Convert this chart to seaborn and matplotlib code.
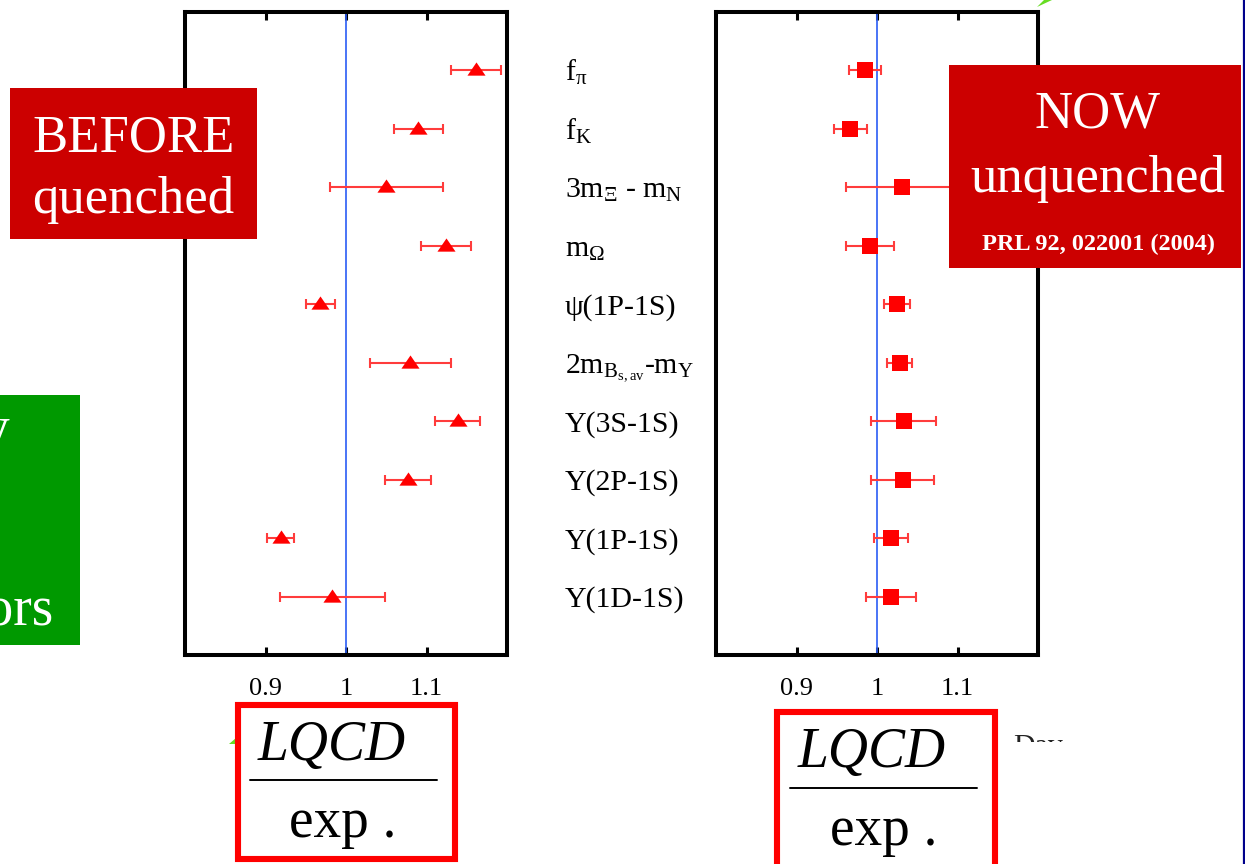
import numpy as np
import pandas as pd
import matplotlib
matplotlib.use("Agg")
import matplotlib.pyplot as plt
import seaborn as sns
from matplotlib.patches import Rectangle, Polygon
from matplotlib.lines import Line2D

# ---- data: lattice QCD / experiment ratios ----
observables = [
    r"f$_{\mathrm{π}}$",
    r"f$_{\mathrm{K}}$",
    r"3m$_{\mathrm{Ξ}}$ - m$_{\mathrm{N}}$",
    r"m$_{\mathrm{Ω}}$",
    "ψ(1P-1S)",
    r"2m$_{\mathrm{B}_{\mathrm{s,av}}}$-m$_{\mathrm{Υ}}$",
    "Υ(3S-1S)",
    "Υ(2P-1S)",
    "Υ(1P-1S)",
    "Υ(1D-1S)",
]
quenched_ratio = [1.161, 1.090, 1.050, 1.124, 0.968, 1.080, 1.139, 1.077, 0.919, 0.983]
quenched_err = [0.031, 0.030, 0.070, 0.031, 0.018, 0.050, 0.028, 0.029, 0.017, 0.065]
unquenched_ratio = [0.985, 0.967, 1.031, 0.991, 1.025, 1.028, 1.033, 1.032, 1.017, 1.017]
unquenched_err = [0.020, 0.021, 0.069, 0.030, 0.016, 0.016, 0.040, 0.039, 0.021, 0.031]
x_ticks = [0.9, 1.0, 1.1]
x_tick_labels = ["0.9", "1", "1.1"]

rows = np.arange(1, len(observables) + 1)
df_q = pd.DataFrame({"row": rows, "ratio": quenched_ratio, "err": quenched_err})
df_u = pd.DataFrame({"row": rows, "ratio": unquenched_ratio, "err": unquenched_err})

sns.set_theme(style="white")
plt.rcParams["font.family"] = ["Liberation Serif", "DejaVu Serif"]
plt.rcParams["mathtext.fontset"] = "custom"
plt.rcParams["mathtext.rm"] = "Liberation Serif"
plt.rcParams["mathtext.it"] = "Liberation Serif:italic"
plt.rcParams["mathtext.bf"] = "Liberation Serif:bold"

W, H = 1245, 864
fig = plt.figure(figsize=(W / 100, H / 100), dpi=100)
fig.patch.set_facecolor("white")


def fx(px):
    return px / W


def fy(py):
    return 1 - py / H


ax_b = fig.add_axes([fx(185), fy(655), fx(507) - fx(185), fy(12) - fy(655)])
ax_a = fig.add_axes([fx(716), fy(655), fx(1038) - fx(716), fy(12) - fy(655)])

triangle = [(-1, -0.57), (1, -0.57), (0, 0.89)]

for ax, df, marker, size in [(ax_b, df_q, triangle, 170), (ax_a, df_u, "s", 140)]:
    ax.axvline(1.0, color="#2a5cf5", lw=1.2, zorder=1)
    ax.errorbar(df["ratio"], df["row"], xerr=df["err"], fmt="none",
                ecolor="#ff3c3c", elinewidth=1.5, capsize=3.8, capthick=1.5, zorder=2)
    sns.scatterplot(data=df, x="ratio", y="row", marker=marker, s=size,
                    color="#ff0000", linewidth=0, ax=ax, zorder=3, legend=False)
    ax.set_xlim(0.8, 1.2)
    ax.set_ylim(11, 0)
    ax.set_xticks(x_ticks)
    ax.set_xticklabels(x_tick_labels)
    ax.set_yticks([])
    ax.set_xlabel("")
    ax.set_ylabel("")
    ax.tick_params(axis="x", direction="in", top=True, bottom=True, length=6,
                   width=2.2, pad=16.5, labelsize=19, colors="black")
    for sp in ax.spines.values():
        sp.set_visible(True)
        sp.set_color("black")
        sp.set_linewidth(2.9)
    ax.set_facecolor("white")

# observable names between the two panels
lab_x = (565 - 185) / (507 - 185)
for r, name in zip(rows, observables):
    ax_b.text(lab_x, r + 0.18, name, transform=ax_b.get_yaxis_transform(),
              ha="left", va="baseline", fontsize=21.5, color="black", clip_on=False)

# ---- annotation boxes ----
dark_red = "#cc0000"
fig.add_artist(Rectangle((fx(10), fy(239)), fx(257) - fx(10), fy(88) - fy(239),
                         transform=fig.transFigure, facecolor=dark_red, edgecolor="none", zorder=5))
fig.text(fx(134), fy(152), "BEFORE", ha="center", va="baseline", fontsize=38, color="white", zorder=6)
fig.text(fx(133), fy(213), "quenched", ha="center", va="baseline", fontsize=38, color="white", zorder=6)

fig.add_artist(Rectangle((fx(949), fy(268)), fx(1241) - fx(949), fy(65) - fy(268),
                         transform=fig.transFigure, facecolor=dark_red, edgecolor="none", zorder=5))
fig.text(fx(1098), fy(128), "NOW", ha="center", va="baseline", fontsize=38, color="white", zorder=6)
fig.text(fx(1098), fy(192), "unquenched", ha="center", va="baseline", fontsize=38, color="white", zorder=6)
fig.text(fx(1098), fy(250), "PRL 92, 022001 (2004)", ha="center", va="baseline", fontsize=17.5,
         fontweight="bold", color="white", zorder=6)

# green side box; its words run off the left edge of the slide
fig.add_artist(Rectangle((fx(0), fy(645)), fx(80), fy(395) - fy(645),
                         transform=fig.transFigure, facecolor="#009900", edgecolor="none", zorder=5))
fig.text(fx(9), fy(445), "y", ha="right", va="baseline", fontsize=40, color="white", zorder=6)
fig.text(fx(54), fy(625), "errors", ha="right", va="baseline", fontsize=40, color="white", zorder=6)

# LQCD / exp. fraction boxes
for (bx0, bx1, btop, bbot, lq_x, lq_base, line_y, lx0, lx1, ex_x, ex_base) in [
    (237.5, 454.5, 704.5, 859, 258, 760, 780, 250, 437, 289, 837),
    (777, 995, 712, 880, 798, 767, 788, 790, 977, 830, 845),
]:
    fig.add_artist(Rectangle((fx(bx0), fy(bbot)), fx(bx1) - fx(bx0), fy(btop) - fy(bbot),
                             transform=fig.transFigure, facecolor="white",
                             edgecolor="#ff0000", lw=4.4, zorder=5))
    fig.text(fx(lq_x), fy(lq_base), "LQCD", ha="left", va="baseline", fontsize=40,
             style="italic", color="black", zorder=6)
    fig.add_artist(Line2D([fx(lx0), fx(lx1)], [fy(line_y), fy(line_y)],
                          transform=fig.transFigure, color="black", lw=1.4, zorder=6))
    fig.text(fx(ex_x), fy(ex_base), "exp .", ha="left", va="baseline", fontsize=40,
             color="black", zorder=6)

# partly hidden caption at the lower right
fig.text(fx(1013), fy(754), "Dav", ha="left", va="baseline", fontsize=21.5, color="#222222", zorder=4)
fig.add_artist(Rectangle((fx(1000), fy(870)), fx(1075) - fx(1000), fy(742) - fy(870),
                         transform=fig.transFigure, facecolor="white", edgecolor="none", zorder=4.5))

# small green arrow tips
fig.add_artist(Polygon([(fx(1037), fy(7)), (fx(1052), fy(0)), (fx(1044), fy(0))], closed=True,
                       transform=fig.transFigure, facecolor="#66dd22", edgecolor="none", zorder=4))
fig.add_artist(Polygon([(fx(229), fy(744)), (fx(236), fy(738)), (fx(236), fy(744))], closed=True,
                       transform=fig.transFigure, facecolor="#66dd22", edgecolor="none", zorder=4))

# slide border on the right
fig.add_artist(Line2D([fx(1243.5), fx(1243.5)], [0, 1], transform=fig.transFigure,
                      color="#00008b", lw=1.6, zorder=7))

fig.savefig("out.png", dpi=100, facecolor="white")
